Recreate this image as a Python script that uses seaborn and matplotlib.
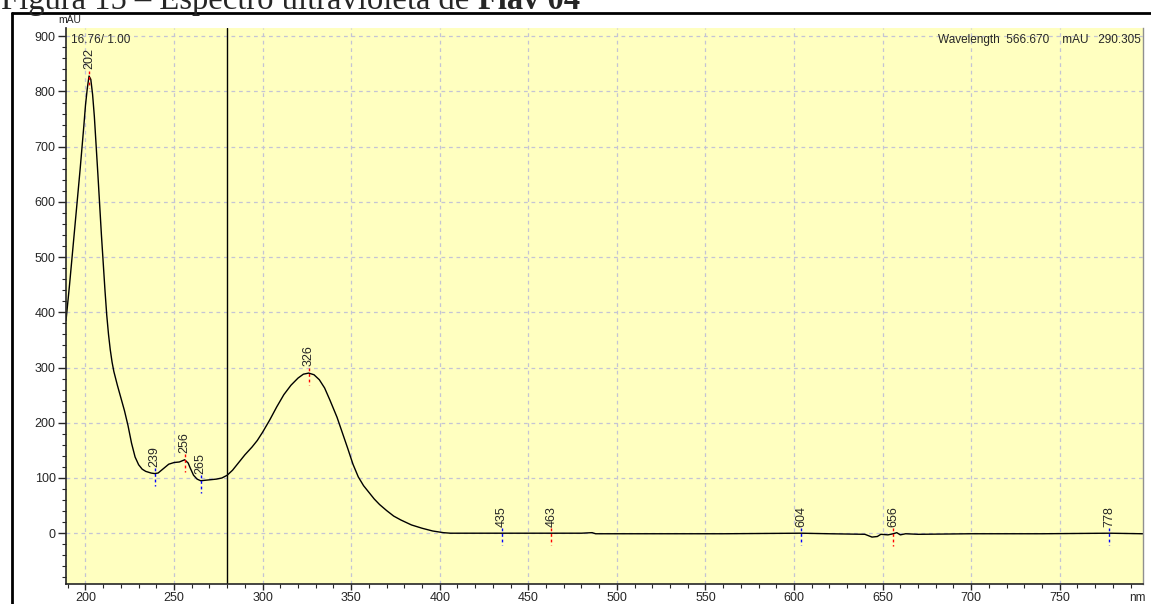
import pandas as pd
import matplotlib.pyplot as plt
import seaborn as sns
from matplotlib.lines import Line2D
from matplotlib.ticker import MultipleLocator

# spectrum (nm, mAU)
wavelength = [189, 191, 193, 195, 197, 199, 200, 201, 202, 203, 204, 205, 207, 209, 211,
              212, 213, 214, 215, 216, 218, 220, 222, 224, 226, 228, 230, 232, 234, 237,
              239, 241, 244, 247, 250, 253, 256, 258, 259, 261, 263, 265, 268, 271, 274,
              277, 280, 283, 286, 290, 294, 297, 300, 304, 308, 312, 316, 320, 323, 326,
              329, 332, 335, 338, 342, 345, 348, 351, 354, 357, 360, 363, 366, 370, 374,
              378, 384, 390, 396, 402, 406, 420, 435, 450, 463, 480, 486, 488, 500, 530,
              560, 604, 620, 640, 644, 647, 649, 653, 656, 658, 660, 663, 670, 700, 740,
              778, 797]
absorbance = [385, 450, 520, 590, 660, 735, 775, 805, 828, 822, 795, 755, 650, 540, 440,
              395, 360, 332, 310, 293, 268, 245, 222, 195, 163, 138, 124, 116, 112, 109,
              108, 109, 117, 125, 128, 129, 133, 127, 119, 105, 98, 95, 96, 97, 98,
              100, 105, 114, 126, 142, 156, 168, 183, 205, 229, 251, 268, 281, 288, 290,
              287, 278, 263, 241, 210, 182, 154, 125, 102, 86, 74, 62, 52, 41, 31,
              24, 15, 9, 4, 1, 0, 0, 0, 0, 0, 0, 1, -1, -1, -1,
              -1, 0, -1, -2, -7, -6, -2, -3, -1, 1, -3, -1, -2, -1, -1,
              0, -1]

# labelled peaks / valleys
peak_nm = [202, 239, 256, 265, 326, 435, 463, 604, 656, 778]
peak_mau = [828, 108, 133, 95, 290, 0, 0, 0, -1, 0]
peak_color = ['red', 'blue', 'red', 'blue', 'red', 'blue', 'red', 'blue', 'red', 'blue']

cursor_nm = 280

df = pd.DataFrame({'nm': wavelength, 'mAU': absorbance})

sns.set_style('ticks')
plt.rcParams['font.family'] = ['Liberation Sans', 'DejaVu Sans']

W, H = 1151, 604
fig = plt.figure(figsize=(W / 100, H / 100), dpi=100)
ax = fig.add_axes([66 / W, 1 - 584 / H, (1143 - 66) / W, (584 - 28) / H])
ax.set_facecolor('#FFFFC0')

sns.lineplot(data=df, x='nm', y='mAU', color='black', lw=1, ax=ax)
ax.axvline(cursor_nm, color='black', lw=1)

for x, y, c in zip(peak_nm, peak_mau, peak_color):
    ax.plot([x, x], [y + 10, y - 22], color=c, lw=1, ls=(0, (2, 2)))
    ax.text(x, y + 12, str(x), rotation=90, ha='center', va='bottom', fontsize=9)

ax.set_xlim(189, 797)
ax.set_ylim(-92, 915)
ax.xaxis.set_major_locator(MultipleLocator(50))
ax.xaxis.set_minor_locator(MultipleLocator(10))
ax.yaxis.set_major_locator(MultipleLocator(100))
ax.yaxis.set_minor_locator(MultipleLocator(20))
ax.grid(True, which='major', color='#C4C4D4', ls=(0, (3, 3)), lw=0.9)
ax.set_xlabel('')
ax.set_ylabel('')

ax.spines['top'].set_visible(False)
ax.spines['right'].set_color('#909090')
ax.spines['right'].set_linewidth(1)
ax.spines['left'].set_linewidth(1.2)
ax.spines['bottom'].set_linewidth(1.2)
ax.tick_params(axis='y', which='major', length=6, width=1, pad=1.5, labelsize=9)
ax.tick_params(axis='y', which='minor', length=3, width=0.8)
ax.tick_params(axis='x', which='major', length=4, width=1, pad=2, labelsize=9)
ax.tick_params(axis='x', which='minor', length=3, width=0.8)

# instrument texts
fig.text(70 / W, 1 - 20 / H, 'mAU', ha='center', va='center', fontsize=7.5)
fig.text(1137 / W, 1 - 598 / H, 'nm', ha='center', va='center', fontsize=8.5)
ax.text(0.005, 0.99, '16.76/ 1.00', transform=ax.transAxes, ha='left', va='top', fontsize=8.5)
ax.text(0.998, 0.99, 'Wavelength  566.670    mAU   290.305', transform=ax.transAxes,
        ha='right', va='top', fontsize=8.5)

# outer frame (left and top edges visible)
fig.add_artist(Line2D([12 / W, 12 / W], [0, 1 - 13 / H], color='black', lw=2))
fig.add_artist(Line2D([12 / W, 1], [1 - 13 / H, 1 - 13 / H], color='black', lw=2))

# caption, cut off at the top like in the source
t1 = fig.text(0.001, 1 - 9 / H, 'Figura 15 – Espectro ultravioleta de ', fontsize=23.5,
              family='Liberation Serif', va='baseline')
fig.canvas.draw()
bb = t1.get_window_extent()
fig.text(bb.x1 / fig.bbox.width, 1 - 9 / H, 'Flav 04', fontsize=23.5, fontweight='bold',
         family='Liberation Serif', va='baseline')

fig.savefig('out.png', dpi=100)
